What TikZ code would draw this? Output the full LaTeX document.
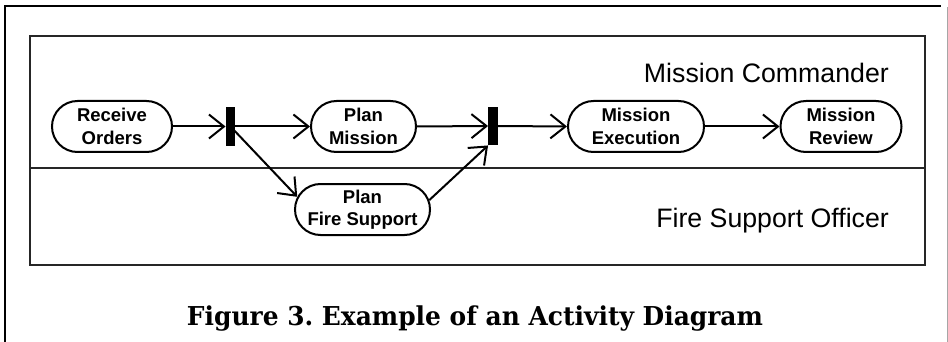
\documentclass[tikz,border=0pt]{standalone}
\usepackage{fontspec}
\usepackage{graphicx}
\setmainfont{Liberation Sans}
\newfontfamily\lanefam{Liberation Sans}
\newfontfamily\capfam{DejaVu Serif}
\usetikzlibrary{shapes.misc,arrows.meta}
\frenchspacing
\begin{document}
\begin{tikzpicture}[x=1pt,y=-1pt,
  act/.style={draw, line width=2pt, rounded rectangle, minimum height=51pt,
    inner sep=0pt, align=center, font=\lanefam\bfseries\fontsize{18.5}{22.5}\selectfont},
  bar/.style={fill=black, draw=none, inner sep=0pt, minimum width=9.5pt, minimum height=38.5pt},
  flow/.style={line width=2pt, -{Straight Barb[length=15pt,width=24pt,line width=2pt]}},
  lane/.style={font=\lanefam\fontsize{26.7}{30}\selectfont, anchor=base east, inner sep=0pt},
]
\useasboundingbox (0,0) rectangle (948,342);
% page frame
\draw[line width=1.4pt] (5,342) -- (5,6) -- (941,6);
\draw[line width=1pt, gray!70] (947,7) -- (947,342);
% swimlane frame and divider
\draw[line width=1.5pt, black!85] (30,36) rectangle (925,265);
\draw[line width=1.1pt, black!85] (30,168) -- (925,168);
% lane titles
\node[lane] (lmc) at (889,83) {Mission Commander};
\node[lane] (lfso) at (889,227) {Fire Support Officer};
% activities
\node[act, minimum width=120pt] (ro) at (112,126.5) {Receive\\Orders};
\node[act, minimum width=105pt] (pm) at (363.5,126.5) {Plan\\Mission};
\node[act, minimum width=135pt] (pfs) at (362.5,209.5) {Plan\\Fire Support};
\node[act, minimum width=136pt] (me) at (636,126.5) {Mission\\Execution};
\node[act, minimum width=121pt] (mr) at (841,126.5) {Mission\\Review};
% fork and join bars
\node[bar] (fork) at (230.5,126.5) {};
\node[bar] (join) at (493,126) {};
% control flows
\draw[flow] (ro.east) -- (fork.west);
\draw[flow] (fork.east) -- (pm.west);
\draw[flow] (fork.center) -- (pfs.169);
\draw[flow] (pm.east) -- (join.west);
\draw[flow] (pfs.8) -- (join.south west);
\draw[flow] (join.east) -- (me.west);
\draw[flow] (me.east) -- (mr.west);
% bars redrawn on top of the flow ends
\fill[black] (fork.south west) rectangle (fork.north east);
\fill[black] (join.south west) rectangle (join.north east);
% caption
\node[anchor=base, inner sep=0pt] (cap) at (475,325)
  {\resizebox{576pt}{\height}{\capfam\bfseries\fontsize{26}{30}\selectfont Figure 3. Example of an Activity Diagram}};
\end{tikzpicture}
\end{document}
